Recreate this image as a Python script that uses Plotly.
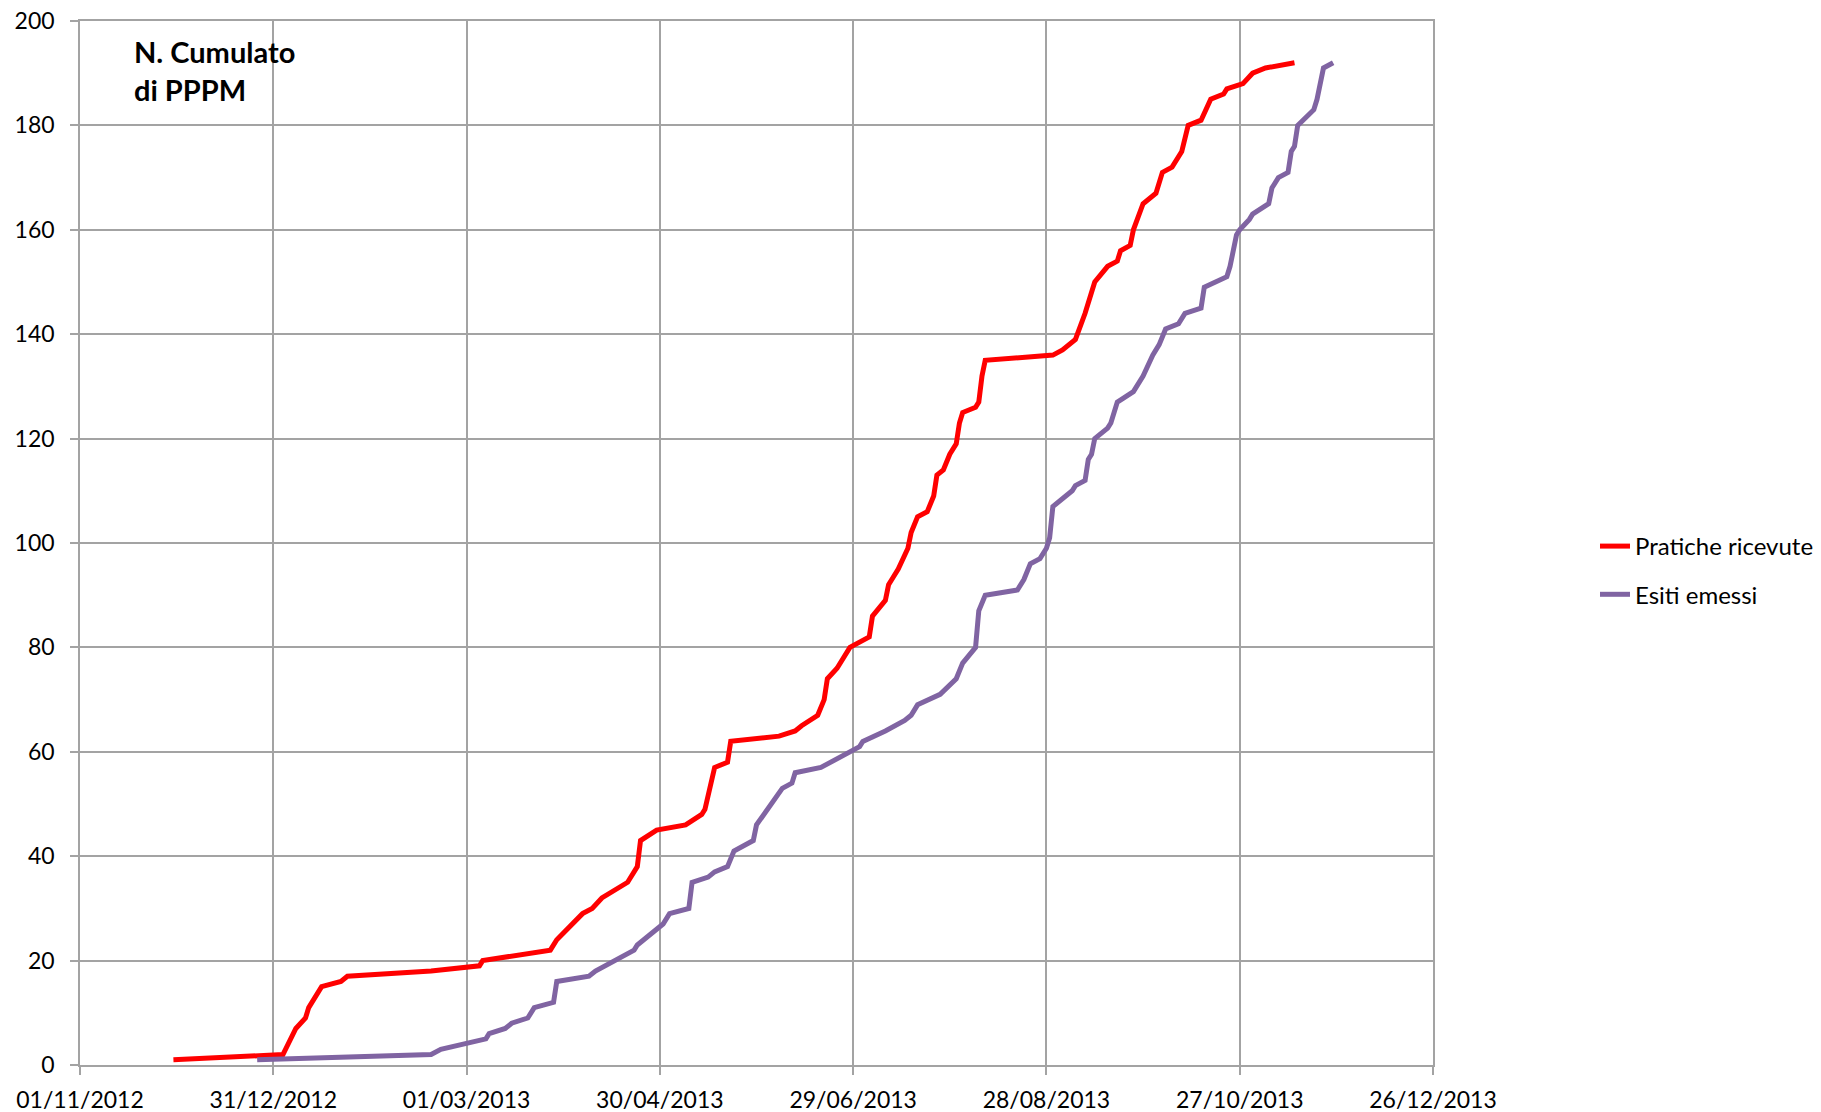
import plotly.graph_objects as go

# ---- data ----
ricevute_dates = [
    "2012-11-30", "2013-01-03", "2013-01-07", "2013-01-10", "2013-01-11", "2013-01-15", "2013-01-21", "2013-01-23",
    "2013-02-18", "2013-03-05", "2013-03-06", "2013-03-27", "2013-03-29", "2013-04-04", "2013-04-06", "2013-04-09",
    "2013-04-12", "2013-04-20", "2013-04-23", "2013-04-24", "2013-04-29", "2013-05-08", "2013-05-13", "2013-05-14",
    "2013-05-17", "2013-05-21", "2013-05-22", "2013-06-06", "2013-06-11", "2013-06-13", "2013-06-18", "2013-06-20",
    "2013-06-21", "2013-06-24", "2013-06-28", "2013-07-04", "2013-07-05", "2013-07-09", "2013-07-10", "2013-07-11",
    "2013-07-13", "2013-07-16", "2013-07-17", "2013-07-19", "2013-07-22", "2013-07-24", "2013-07-25", "2013-07-27",
    "2013-07-29", "2013-07-31", "2013-08-01", "2013-08-02", "2013-08-06", "2013-08-07", "2013-08-08", "2013-08-09",
    "2013-08-30", "2013-09-02", "2013-09-06", "2013-09-09", "2013-09-12", "2013-09-16", "2013-09-19", "2013-09-20",
    "2013-09-23", "2013-09-24", "2013-09-27", "2013-10-01", "2013-10-03", "2013-10-06", "2013-10-09", "2013-10-11",
    "2013-10-15", "2013-10-18", "2013-10-22", "2013-10-23", "2013-10-28", "2013-10-31", "2013-11-04", "2013-11-13",
]
ricevute_values = [
    1, 2, 7, 9, 11, 15, 16, 17, 18, 19,
    20, 22, 24, 28, 29, 30, 32, 35, 38, 43,
    45, 46, 48, 49, 57, 58, 62, 63, 64, 65,
    67, 70, 74, 76, 80, 82, 86, 89, 92, 93,
    95, 99, 102, 105, 106, 109, 113, 114, 117, 119,
    123, 125, 126, 127, 132, 135, 136, 137, 139, 144,
    150, 153, 154, 156, 157, 160, 165, 167, 171, 172,
    175, 180, 181, 185, 186, 187, 188, 190, 191, 192,
]

esiti_dates = [
    "2012-12-26", "2013-02-18", "2013-02-21", "2013-03-07", "2013-03-08", "2013-03-13", "2013-03-15", "2013-03-20",
    "2013-03-22", "2013-03-28", "2013-03-29", "2013-04-08", "2013-04-10", "2013-04-22", "2013-04-23", "2013-05-01",
    "2013-05-03", "2013-05-09", "2013-05-10", "2013-05-15", "2013-05-17", "2013-05-21", "2013-05-23", "2013-05-29",
    "2013-05-30", "2013-06-07", "2013-06-10", "2013-06-11", "2013-06-19", "2013-06-22", "2013-06-28", "2013-07-01",
    "2013-07-02", "2013-07-09", "2013-07-15", "2013-07-17", "2013-07-19", "2013-07-26", "2013-07-31", "2013-08-02",
    "2013-08-06", "2013-08-07", "2013-08-09", "2013-08-19", "2013-08-21", "2013-08-23", "2013-08-26", "2013-08-28",
    "2013-08-29", "2013-08-30", "2013-09-05", "2013-09-06", "2013-09-09", "2013-09-10", "2013-09-11", "2013-09-12",
    "2013-09-16", "2013-09-17", "2013-09-19", "2013-09-24", "2013-09-27", "2013-09-30", "2013-10-02", "2013-10-04",
    "2013-10-08", "2013-10-10", "2013-10-15", "2013-10-16", "2013-10-23", "2013-10-24", "2013-10-26", "2013-10-27",
    "2013-10-30", "2013-10-31", "2013-11-05", "2013-11-06", "2013-11-08", "2013-11-11", "2013-11-12", "2013-11-13",
    "2013-11-14", "2013-11-19", "2013-11-20", "2013-11-22", "2013-11-25",
]
esiti_values = [
    1, 2, 3, 5, 6, 7, 8, 9, 11, 12,
    16, 17, 18, 22, 23, 27, 29, 30, 35, 36,
    37, 38, 41, 43, 46, 53, 54, 56, 57, 58,
    60, 61, 62, 64, 66, 67, 69, 71, 74, 77,
    80, 87, 90, 91, 93, 96, 97, 99, 101, 107,
    110, 111, 112, 116, 117, 120, 122, 123, 127, 129,
    132, 136, 138, 141, 142, 144, 145, 149, 151, 153,
    159, 160, 162, 163, 165, 168, 170, 171, 175, 176,
    180, 183, 185, 191, 192,
]

x_tick_vals = ["2012-11-01", "2012-12-31", "2013-03-01", "2013-04-30",
               "2013-06-29", "2013-08-28", "2013-10-27", "2013-12-26"]
x_tick_text = ["01/11/2012", "31/12/2012", "01/03/2013", "30/04/2013",
               "29/06/2013", "28/08/2013", "27/10/2013", "26/12/2013"]
y_tick_vals = [0, 20, 40, 60, 80, 100, 120, 140, 160, 180, 200]

series_names = ["Pratiche ricevute", "Esiti emessi"]
title_text = "N. Cumulato<br>di PPPM"

# ---- figure ----
# The page body has an 8px margin, so the figure is sized to end exactly at
# the window edges and all positions are expressed in figure coordinates.
FONT = "Lato, 'Open Sans', sans-serif"
GRID = "#a3a3a3"
W, H = 1813, 1104
L, T = 72, 13
R, B = W - 1425, H - 1057
PW, PH = W - L - R, H - T - B

fig = go.Figure()
fig.add_trace(go.Scatter(x=ricevute_dates, y=ricevute_values, mode="lines",
                         name=series_names[0], legendgroup="a",
                         line=dict(color="#FF0000", width=5)))
fig.add_trace(go.Scatter(x=esiti_dates, y=esiti_values, mode="lines",
                         name=series_names[1], legendgroup="b",
                         line=dict(color="#8064A2", width=5)))

fig.update_layout(
    width=W, height=H,
    margin=dict(l=L, r=R, t=T, b=B, autoexpand=False),
    paper_bgcolor="white", plot_bgcolor="white",
    font=dict(family=FONT, size=23, color="#000000"),
    showlegend=True,
    legend=dict(x=(1587 - L) / PW, y=(1057 - 562.5) / PH, xanchor="left", yanchor="middle",
                font=dict(family=FONT, size=24, color="#000000"),
                tracegroupgap=14, bgcolor="rgba(0,0,0,0)"),
    xaxis=dict(
        type="date", range=[x_tick_vals[0], x_tick_vals[-1]],
        tickmode="array", tickvals=x_tick_vals, ticktext=x_tick_text,
        showgrid=True, gridcolor=GRID, gridwidth=1.5,
        showline=True, mirror=True, linecolor=GRID, linewidth=1.5,
        ticks="outside", ticklen=8, tickcolor=GRID, tickwidth=1.5,
        ticklabelstandoff=6, automargin=False, ticklabeloverflow="allow",
        tickfont=dict(family=FONT, size=23, color="#000000"),
        zeroline=False,
    ),
    yaxis=dict(
        range=[0, 200], tickmode="array", tickvals=y_tick_vals,
        showgrid=True, gridcolor=GRID, gridwidth=1.5,
        showline=True, mirror=True, linecolor=GRID, linewidth=1.5,
        ticks="outside", ticklen=8, tickcolor=GRID, tickwidth=1.5,
        ticklabelstandoff=11, automargin=False, ticklabeloverflow="allow",
        tickfont=dict(family=FONT, size=23, color="#000000"),
        zeroline=False,
    ),
    annotations=[dict(
        text="<b>" + title_text + "</b>", xref="paper", yref="paper",
        x=(124 - L) / PW, y=1 - (24 - T) / PH, xanchor="left", yanchor="top",
        showarrow=False, align="left",
        font=dict(family=FONT, size=29, color="#000000"),
    )],
)

fig.write_html("out.html")
